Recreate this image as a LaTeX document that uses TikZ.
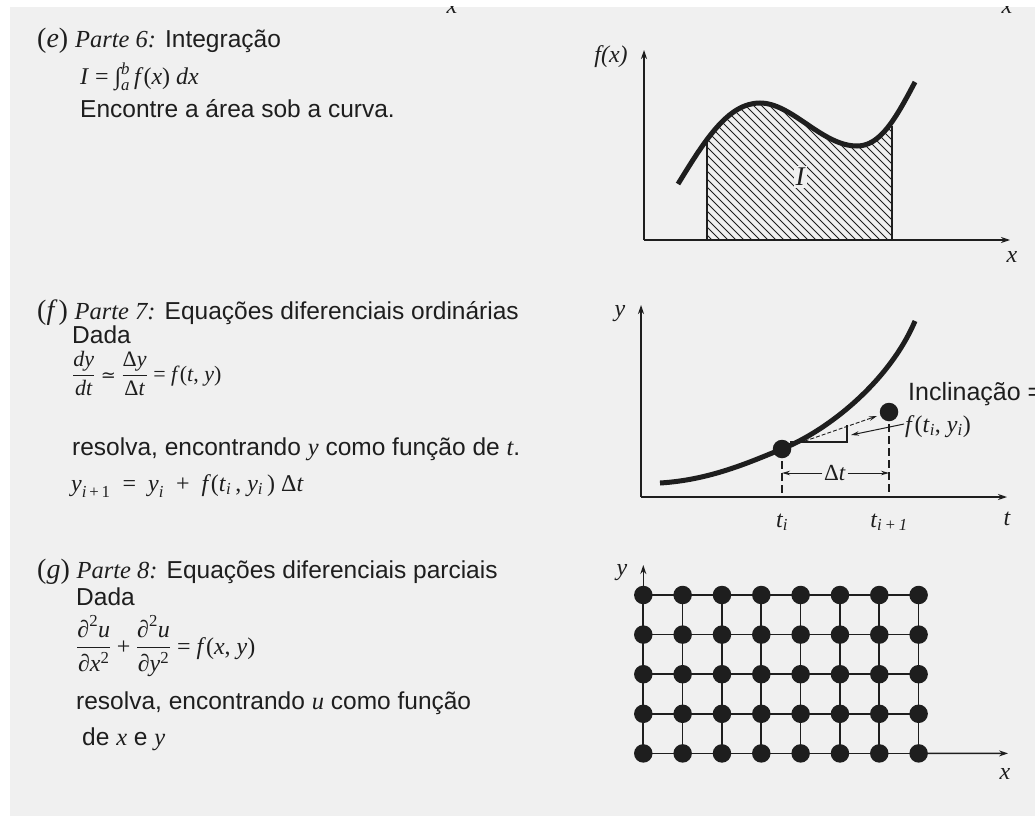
\documentclass[tikz,border=0pt]{standalone}
\usepackage{fontspec}
\usepackage{amsmath}
\setmainfont{Liberation Sans}
\newfontfamily\tms{Liberation Serif}
\newfontfamily\djv{DejaVu Serif}
\usetikzlibrary{arrows.meta}
\definecolor{bg}{HTML}{F0F0F0}
\definecolor{ink}{HTML}{1E1E1E}
\newcommand{\fsz}[1]{\fontsize{#1}{#1}\selectfont}
\newcommand{\ti}[1]{\text{\tms\itshape #1}}
\newcommand{\tr}[1]{\text{\tms #1}}
\tikzset{
  txt/.style={anchor=base west, inner sep=0pt, text=ink, font=\fsz{24.5}},
  mtxt/.style={anchor=base west, inner sep=0pt, text=ink, font=\tms\fsz{22}},
  lab/.style={inner sep=0pt, text=ink, font=\tms\itshape\fsz{24}},
  axis/.style={draw=ink, line width=1.4pt, -{Stealth[length=9pt,width=6pt]}},
  curve/.style={draw=ink, line width=5pt},
  hatch/.style={draw=ink, line width=0.9pt},
  edge/.style={draw=ink, line width=1.2pt},
  dot/.style={circle, fill=ink, inner sep=0pt, minimum size=18.5pt},
  dashline/.style={draw=ink, line width=1.6pt, dash pattern=on 8pt off 4pt},
  tangent/.style={draw=ink, line width=0.9pt, dash pattern=on 4pt off 2pt, -{Stealth[length=8pt,width=4.5pt]}},
  thinarrow/.style={draw=ink, line width=1pt, -{Stealth[length=8pt,width=4.5pt]}},
  gridline/.style={draw=ink, line width=1.7pt},
}
\begin{document}
\begin{tikzpicture}[x=1pt,y=-1pt]
\useasboundingbox (0,0) rectangle (1035,816);
\fill[white] (0,0) rectangle (1035,816);
\fill[bg] (10,7) rectangle (1035,816);

% cut-off labels from the panel above
\begin{scope}
\clip (10,7) rectangle (1035,40);
\node[lab, anchor=base] (xtopa) at (452,14) {x};
\node[lab, anchor=base] (xtopb) at (1007,14) {x};
\end{scope}

% ---------- (e) ----------
\node[txt] (e1) at (37,48) {{\tms\fsz{28}(\textit{e})} {\tms\itshape Parte 6:} Integração};
\node[mtxt, font=\tms\fsz{24}] (e2) at (80,84) {\textit{I} = ∫$^{\ti{b}}_{\ti{a}}$\,\textit{f}(\textit{x}) \textit{dx}};
\node[txt] (e3) at (80,117) {Encontre a área sob a curva.};

\coordinate (O1) at (644,240);
\coordinate (Y1) at (644,50);
\coordinate (X1) at (1010,240);
\def\curveE{(678,184) .. controls (705,140) and (728,103) .. (760,103) .. controls (792,103) and (822,146) .. (857,146) .. controls (880,146) and (895,120) .. (915,82)}
\begin{scope}
\clip (707,0) rectangle (892,240);
\clip \curveE -- (915,240) -- (678,240) -- cycle;
\foreach \k in {-9,...,37} \draw[hatch] (560+8*\k,40) -- ++(220,220);
\end{scope}
\draw[edge] (707,240) -- (707,139);
\draw[edge] (892,240) -- (892,126);
\node[lab, fill=bg, inner sep=2pt, font=\tms\itshape\fsz{27}] (Ilab) at (800,177) {I};
\draw[curve] \curveE;
\draw[axis] (O1) -- (Y1);
\draw[axis] (O1) -- (X1);
\node[lab] (fx) at (611,57) {f(x)};
\node[lab] (x1) at (1012,257) {x};

% ---------- (f) ----------
\node[txt] (f1) at (37,319) {{\tms\fsz{28}(\textit{f}\kern1pt)} {\tms\itshape Parte 7:} Equações diferenciais ordinárias};
\node[txt] (f2) at (72,343) {Dada};
\node[mtxt] (f3) at (72,381) {$\dfrac{\ti{dy}}{\ti{dt}}$ {\djv\fsz{18}≃} $\dfrac{\tr{Δ}\ti{y}}{\tr{Δ}\ti{t}}$ = \textit{f}(\textit{t}, \textit{y})};
\node[txt] (f4) at (72,455) {resolva, encontrando {\tms\itshape y} como função de {\tms\itshape t}.};
\node[mtxt, font=\tms\fsz{24}] (f5) at (71,491) {$\ti{y}_{\ti{i}\,\tr{+}\,\tr{1}}$\enspace=\enspace$\ti{y}_{\ti{i}}$\enspace+\enspace\textit{f}(\textit{t}$_{\ti{i}}$\,, \textit{y}$_{\ti{i}}$\,) Δ\textit{t}};

\coordinate (O2) at (641,497);
\coordinate (Y2) at (641,305);
\coordinate (X2) at (1007,497);
\coordinate (Ti) at (782,497);
\coordinate (Tn) at (889,497);
\draw[axis] (O2) -- (Y2);
\draw[axis] (O2) -- (X2);
\draw[curve] (660,483) .. controls (710,480) and (750,462) .. (782,449) .. controls (830,429.5) and (890,380) .. (915,321);
\node[dot] (Pi) at (782,449) {};
\node[dot] (Pn) at (889,412) {};
\draw[dashline] (Pi.center) -- (Ti);
\draw[dashline] (Pn.center) -- (Tn);
\coordinate (tanend) at (877,416);
\draw[tangent] (Pi.center) -- (tanend);
\coordinate (triA) at (790,442);
\coordinate (triB) at (847,442);
\coordinate (triC) at (847,425);
\draw[edge] (triA) -- (triB) -- (triC);
\node[txt, font=\fsz{25}] (incl) at (908,400) {Inclinação =};
\node[mtxt, font=\tms\fsz{24}] (flab) at (905,432) {\textit{f}(\textit{t}$_{\ti{i}}$, \textit{y}$_{\ti{i}}$)};
\coordinate (fa) at (904,424);
\coordinate (fb) at (851,435);
\draw[thinarrow] (fa) -- (fb);
\node[lab, fill=bg, inner sep=1.5pt, font=\tms\fsz{23}] (dt) at (835,473) {Δ\textit{t}};
\coordinate (dtl) at (782,473);
\coordinate (dtr) at (889,473);
\draw[thinarrow] (dt.west) -- (dtl);
\draw[thinarrow] (dt.east) -- (dtr);
\node[lab] (y2) at (620,314) {y};
\node[lab, anchor=base] (ti) at (782,527) {t$_{\ti{i}}$};
\node[lab, anchor=base] (tn) at (889,527) {t$_{\ti{i}\,\tr{+}\,\tr{1}}$};
\node[lab, anchor=base] (t2) at (1007,525) {t};

% ---------- (g) ----------
\node[txt] (g1) at (37,578) {{\tms\fsz{28}(\textit{g})} {\tms\itshape Parte 8:} Equações diferenciais parciais};
\node[txt] (g2) at (76,605) {Dada};
\node[mtxt, font=\tms\fsz{24}] (g3) at (76,654) {$\dfrac{\tr{∂}^{\tr{2}}\ti{u}}{\tr{∂}\ti{x}^{\tr{2}}}\mathbin{\tr{+}}\dfrac{\tr{∂}^{\tr{2}}\ti{u}}{\tr{∂}\ti{y}^{\tr{2}}}$ = \textit{f}(\textit{x}, \textit{y})};
\node[txt] (g4) at (76,709) {resolva, encontrando {\tms\itshape u} como função};
\node[txt] (g5) at (82,745) {de {\tms\itshape x} e {\tms\itshape y}};

\foreach \i in {0,...,7} {
  \foreach \j in {0,...,4} {
    \node[dot] (g-\i-\j) at ({643.3+39.33*\i},{595+39.6*\j}) {};
  }
}
\foreach \i in {0,...,7} \draw[gridline] (g-\i-0.center) -- (g-\i-4.center);
\foreach \j in {0,...,4} \draw[gridline] (g-0-\j.center) -- (g-7-\j.center);
\coordinate (Y3) at (643.3,565);
\coordinate (X3) at (1008,753.4);
\draw[axis] (g-0-0.center) -- (Y3);
\draw[axis] (g-7-4.center) -- (X3);
\node[lab] (y3) at (622,573) {y};
\node[lab] (x3) at (1005,774) {x};
\end{tikzpicture}
\end{document}
